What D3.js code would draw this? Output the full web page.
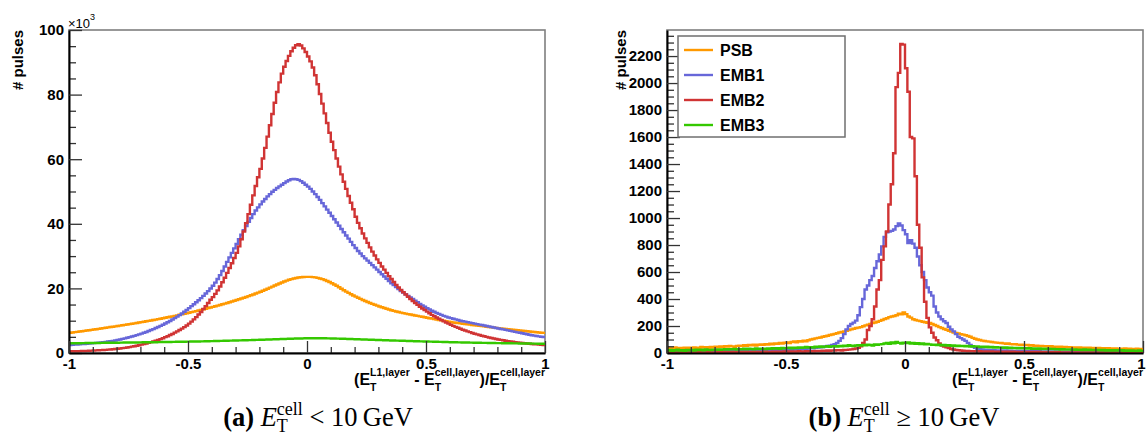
<!DOCTYPE html>
<html><head><meta charset="utf-8">
<script src="https://cdn.jsdelivr.net/npm/d3@7"></script>
<style>body{margin:0;background:#fff}svg{display:block}</style>
</head><body><svg id="c" width="1146" height="439"></svg>
<script>
// ---------------- data ----------------
const seriesNames = ["PSB", "EMB1", "EMB2", "EMB3"];
const seriesColors = ["#ff9900", "#6767d9", "#d03434", "#34c800"];
const xTickValues = [-1, -0.5, 0, 0.5, 1];
const xTickLabels = ["-1", "-0.5", "0", "0.5", "1"];
const yTicksLeft = [0, 20, 40, 60, 80, 100];           // in units of 10^3
const yTicksRight = [0, 200, 400, 600, 800, 1000, 1200, 1400, 1600, 1800, 2000, 2200];

// (a) E_T^cell < 10 GeV  — 200 bins on [-1,1], counts in 10^3
const leftPSB = [
6.25,6.35,6.45,6.55,6.65,6.75,6.85,6.95,7.05,7.15,
7.26,7.37,7.48,7.59,7.7,7.81,7.92,8.03,8.14,8.25,
8.36,8.47,8.58,8.7,8.82,8.94,9.06,9.18,9.3,9.42,
9.55,9.68,9.81,9.94,10.07,10.2,10.34,10.48,10.62,10.76,
10.9,11.05,11.2,11.35,11.5,11.66,11.82,11.98,12.14,12.3,
12.47,12.64,12.81,12.98,13.16,13.34,13.52,13.7,13.89,14.08,
14.27,14.47,14.67,14.87,15.08,15.29,15.5,15.72,15.94,16.16,
16.39,16.62,16.86,17.1,17.35,17.6,17.86,18.13,18.4,18.68,
18.97,19.27,19.58,19.9,20.23,20.56,20.89,21.22,21.54,21.85,
22.14,22.41,22.66,22.88,23.07,23.23,23.36,23.46,23.53,23.57,
23.58,23.56,23.5,23.4,23.26,23.08,22.86,22.6,22.3,21.97,
21.6,21.2,20.8,20.35,19.9,19.45,19.0,18.6,18.2,17.8,
17.45,17.1,16.75,16.42,16.1,15.8,15.5,15.21,14.93,14.66,
14.4,14.15,13.91,13.68,13.46,13.25,13.05,12.86,12.68,12.51,
12.35,12.2,12.05,11.9,11.76,11.62,11.48,11.34,11.2,11.06,
10.92,10.78,10.64,10.5,10.36,10.23,10.1,9.97,9.84,9.72,
9.6,9.49,9.38,9.27,9.17,9.07,8.97,8.87,8.78,8.69,
8.6,8.51,8.42,8.33,8.24,8.15,8.06,7.97,7.88,7.79,
7.7,7.62,7.54,7.46,7.38,7.3,7.22,7.14,7.06,6.98,
6.9,6.82,6.74,6.66,6.58,6.5,6.43,6.36,6.29,6.22];
const leftEMB1 = [
2.5,2.55,2.6,2.65,2.7,2.75,2.8,2.86,2.92,2.98,
3.05,3.12,3.2,3.28,3.36,3.45,3.55,3.65,3.76,3.88,
4.05,4.2,4.36,4.53,4.71,4.9,5.1,5.31,5.53,5.76,
6.0,6.25,6.52,6.8,7.1,7.4,7.72,8.05,8.4,8.76,
9.13,9.52,9.93,10.35,10.8,11.26,11.74,12.24,12.76,13.3,
13.9,14.5,15.1,15.7,16.35,17.0,17.7,18.4,19.15,19.95,
20.8,21.8,22.9,24.1,25.4,26.8,28.2,29.6,31.0,32.4,
33.8,35.2,36.6,38.0,39.3,40.6,41.8,43.0,44.1,45.1,
46.0,46.9,47.7,48.5,49.2,49.9,50.5,51.1,51.6,52.1,
52.6,53.1,53.5,53.8,53.9,53.8,53.6,53.2,52.7,52.1,
51.5,50.8,50.0,49.2,48.3,47.4,46.4,45.4,44.4,43.4,
42.4,41.4,40.4,39.4,38.4,37.4,36.4,35.4,34.4,33.4,
32.5,31.6,30.8,30.0,29.3,28.6,27.9,27.2,26.5,25.8,
25.1,24.4,23.7,23.0,22.3,21.6,21.0,20.4,19.8,19.2,
18.7,18.2,17.7,17.2,16.7,16.2,15.7,15.2,14.75,14.3,
13.9,13.5,13.1,12.75,12.4,12.1,11.8,11.5,11.25,11.0,
10.8,10.6,10.4,10.2,10.0,9.85,9.7,9.55,9.4,9.25,
9.1,8.95,8.8,8.65,8.5,8.35,8.2,8.05,7.9,7.75,
7.6,7.45,7.3,7.15,7.0,6.85,6.7,6.55,6.4,6.25,
6.1,5.95,5.8,5.65,5.5,5.38,5.26,5.14,5.02,4.9];
const leftEMB2 = [
0.50,0.52,0.54,0.56,0.58,0.60,0.63,0.66,0.69,0.72,
0.76,0.80,0.84,0.88,0.93,0.98,1.04,1.10,1.17,1.24,
1.32,1.41,1.50,1.60,1.71,1.83,1.96,2.10,2.25,2.41,
2.58,2.76,2.95,3.15,3.36,3.58,3.81,4.05,4.30,4.56,
4.9,5.2,5.55,5.9,6.3,6.7,7.1,7.55,8.0,8.5,
9.1,9.7,10.4,11.1,11.9,12.7,13.6,14.5,15.5,16.5,
17.3,18.3,19.4,20.6,21.9,23.3,24.8,26.3,27.8,29.4,
31.0,33.0,35.2,37.6,40.2,43.0,45.9,48.8,51.7,54.4,
57.0,60.2,63.5,67.0,70.5,74.0,77.5,80.8,83.8,86.5,
88.6,90.4,92.0,93.4,94.5,95.3,95.6,95.2,94.3,93.2,
91.8,90.3,88.4,86.0,83.2,80.2,77.2,74.2,71.2,68.2,
65.4,62.8,60.2,57.7,55.3,53.0,50.8,48.6,46.5,44.5,
42.2,40.3,38.6,37.0,35.5,34.1,32.7,31.4,30.2,29.0,
27.9,26.8,25.8,24.8,23.8,22.9,22.0,21.1,20.3,19.5,
18.8,18.1,17.4,16.7,16.1,15.5,14.9,14.3,13.8,13.3,
12.8,12.3,11.8,11.4,11.0,10.6,10.2,9.8,9.45,9.1,
8.75,8.4,8.1,7.8,7.5,7.2,6.95,6.7,6.45,6.2,
5.98,5.76,5.56,5.36,5.17,4.99,4.82,4.65,4.49,4.34,
4.2,4.06,3.93,3.81,3.69,3.58,3.47,3.37,3.28,3.19,
3.1,3.02,2.94,2.87,2.8,2.73,2.67,2.61,2.55,2.5];
const leftEMB3 = [
3.00,3.02,3.01,3.04,3.03,3.06,3.05,3.08,3.07,3.10,
3.09,3.12,3.11,3.14,3.13,3.16,3.15,3.18,3.17,3.20,
3.19,3.22,3.21,3.24,3.23,3.26,3.25,3.28,3.27,3.30,
3.29,3.32,3.31,3.34,3.33,3.36,3.35,3.38,3.37,3.40,
3.40,3.42,3.41,3.44,3.44,3.47,3.46,3.49,3.49,3.52,
3.52,3.55,3.55,3.58,3.58,3.61,3.61,3.64,3.65,3.67,
3.68,3.71,3.71,3.74,3.75,3.78,3.79,3.82,3.83,3.86,
3.87,3.90,3.91,3.94,3.96,3.98,4.00,4.03,4.05,4.07,
4.09,4.12,4.14,4.17,4.19,4.22,4.24,4.27,4.29,4.32,
4.34,4.37,4.39,4.42,4.44,4.47,4.49,4.51,4.53,4.55,
4.56,4.57,4.57,4.58,4.57,4.57,4.56,4.55,4.53,4.52,
4.50,4.48,4.46,4.44,4.42,4.40,4.37,4.35,4.32,4.30,
4.27,4.25,4.22,4.20,4.17,4.14,4.12,4.09,4.07,4.04,
4.02,3.99,3.97,3.94,3.92,3.89,3.87,3.84,3.82,3.80,
3.77,3.75,3.73,3.70,3.68,3.66,3.63,3.61,3.59,3.57,
3.55,3.53,3.51,3.49,3.47,3.45,3.43,3.41,3.39,3.37,
3.35,3.34,3.32,3.30,3.29,3.27,3.25,3.24,3.22,3.21,
3.19,3.18,3.16,3.15,3.14,3.12,3.11,3.10,3.08,3.07,
3.06,3.05,3.03,3.02,3.01,3.00,2.99,2.98,2.97,2.96,
2.95,2.94,2.93,2.92,2.91,2.90,2.89,2.88,2.87,2.86];

// (b) E_T^cell >= 10 GeV — 200 bins on [-1,1], counts
const rightPSB = [
38,33,36,41,35,37,34,39,36,40,
37,42,39,36,44,40,43,38,45,41,
46,43,48,44,50,47,52,49,46,53,
55,51,58,54,60,57,62,56,61,64,
60,66,63,69,65,71,68,74,70,76,
79,74,82,85,80,88,84,91,87,95,
100,104,108,112,115,120,124,128,133,137,
142,146,152,156,160,164,170,175,180,185,
188,192,198,205,210,216,222,226,232,238,
244,252,258,266,270,274,280,292,286,300,
288,270,262,250,244,240,236,232,228,224,
222,215,208,200,192,185,178,172,165,158,
152,148,144,140,136,132,126,120,112,106,
100,96,92,89,86,84,81,79,77,75,
74,71,69,70,66,64,65,62,60,61,
58,59,55,57,53,54,51,52,49,50,
48,50,46,47,44,46,43,45,42,43,
41,42,39,41,38,40,37,39,36,38,
36,37,34,36,33,35,32,34,33,31,
32,30,33,29,31,30,28,31,29,30];
const rightEMB1 = [
8,10,7,9,11,8,10,9,12,10,
11,9,12,10,13,11,12,14,11,13,
12,14,13,15,12,14,16,13,15,14,
16,14,17,15,18,16,17,19,16,18,
18,20,17,21,19,22,20,23,21,24,
22,25,24,27,26,29,28,31,30,33,
35,34,38,40,42,45,48,52,55,60,
65,75,90,110,140,175,200,215,225,240,
280,340,400,470,500,540,570,630,680,730,
790,860,895,900,905,915,940,960,945,910,
880,815,835,810,780,715,650,600,540,485,
450,425,345,300,270,250,235,222,195,175,
160,140,120,110,100,90,75,60,48,38,
32,28,26,24,23,22,21,20,19,19,
18,17,18,16,17,15,16,15,14,15,
14,13,14,12,13,12,13,11,12,11,
12,10,11,10,11,9,10,10,9,10,
9,10,8,9,9,8,9,8,9,8,
8,9,7,8,8,7,8,7,8,7,
7,8,6,7,7,6,7,6,7,6];
const rightEMB2 = [
4,3,5,2,4,3,5,4,3,4,
5,3,4,6,4,5,3,6,5,4,
5,6,4,7,5,6,5,7,6,5,
6,7,5,8,6,7,8,6,7,8,
7,9,8,7,10,8,9,10,8,11,
9,11,10,12,11,13,12,11,14,13,
14,13,15,16,14,17,16,18,17,19,
18,20,21,19,22,23,25,27,30,33,
38,50,75,100,170,200,250,345,470,540,
690,790,900,1100,1250,1480,1970,2075,2290,2285,
2110,1935,1600,1590,1310,950,780,560,380,260,
190,150,115,95,70,55,47,42,36,30,
26,22,20,18,17,16,15,14,14,13,
12,13,11,12,11,10,11,10,9,10,
9,10,8,9,8,9,7,8,8,7,
7,8,6,7,7,6,7,6,5,6,
6,5,6,5,6,4,5,5,4,5,
5,4,5,4,4,5,3,4,4,3,
4,3,4,3,4,3,3,4,3,3,
3,4,2,3,3,2,3,3,2,3];
const rightEMB3 = [
18,22,16,20,24,19,21,17,23,20,
22,19,25,21,24,20,26,23,22,25,
24,27,23,26,29,25,28,27,30,26,
29,27,31,28,32,30,27,33,29,31,
32,30,34,31,36,33,35,32,37,34,
36,39,35,40,37,42,38,41,44,40,
43,41,46,44,48,45,47,50,46,49,
51,48,53,50,55,52,57,54,51,56,
58,55,60,57,62,59,56,63,60,64,
66,70,74,68,78,72,82,75,70,76,
73,78,70,74,68,72,66,70,64,67,
64,60,62,58,61,57,59,55,58,54,
56,52,55,51,53,49,52,48,50,47,
49,45,47,44,46,42,45,41,43,40,
42,39,41,37,40,36,38,35,37,34,
36,33,35,32,34,31,33,30,32,29,
31,29,30,27,29,26,28,25,27,26,
24,27,23,25,22,26,21,24,22,23,
21,23,20,22,19,21,18,20,19,21,
18,20,17,19,16,18,17,15,18,16];

// ---------------- drawing ----------------
const svg = d3.select("#c");
const SANS = "'Liberation Sans', Arial, Helvetica, sans-serif";
const SERIF = "'Liberation Serif', 'Times New Roman', serif";

function rich(parent, x, y, anchor, cols, base) {
  const g = parent.append("g");
  let cx = 0;
  cols.forEach(col => {
    let w = 0;
    col.forEach(p => {
      const o = Object.assign({}, base, p);
      const t = g.append("text")
        .attr("x", cx).attr("y", o.dy || 0)
        .attr("font-family", o.ff).attr("font-size", o.fs)
        .attr("font-weight", o.fw || "normal").attr("font-style", o.st || "normal")
        .attr("fill", "#000").style("white-space", "pre")
        .text(o.t);
      w = Math.max(w, t.node().getComputedTextLength());
    });
    cx += w;
  });
  const off = anchor === "end" ? -cx : anchor === "middle" ? -cx / 2 : 0;
  g.attr("transform", `translate(${x + off},${y})`);
}

function panel(o) {
  const x = d3.scaleLinear().domain([-1, 1]).range([o.x0, o.x1]);
  const y = d3.scaleLinear().domain([0, o.yMax]).range([o.yBot, o.yTop]);
  const g = svg.append("g");

  const clipId = "clip" + o.id;
  svg.append("clipPath").attr("id", clipId).append("rect")
    .attr("x", o.x0).attr("y", o.yTop).attr("width", o.x1 - o.x0).attr("height", o.yBot - o.yTop);

  // frame
  g.append("rect").attr("x", o.x0).attr("y", o.yTop)
    .attr("width", o.x1 - o.x0).attr("height", o.yBot - o.yTop)
    .attr("fill", "none").attr("stroke", "#7f7f7f").attr("stroke-width", 1.6);

  // histograms
  const line = d3.line().x(d => x(d[0])).y(d => y(d[1])).curve(d3.curveStepAfter);
  const hg = g.append("g").attr("clip-path", `url(#${clipId})`);
  o.series.forEach((vals, k) => {
    const n = vals.length;
    const pts = vals.map((v, i) => [-1 + 2 * i / n, v]);
    pts.push([1, vals[n - 1]]);
    hg.append("path").attr("d", line(pts))
      .attr("fill", "none").attr("stroke", seriesColors[k])
      .attr("stroke-width", 2.4).attr("stroke-linejoin", "miter");
  });

  // y axis
  const yMinor = d3.range(0, o.yMax, o.yMinorStep).filter(v => o.yTicks.indexOf(v) < 0);
  const ym = g.append("g").attr("transform", `translate(${o.x0},0)`)
    .call(d3.axisLeft(y).tickValues(yMinor).tickSizeInner(-7).tickSizeOuter(0).tickFormat(""));
  ym.select(".domain").remove();
  ym.selectAll("line").attr("stroke", "#333").attr("stroke-width", 1.3);
  const ya = g.append("g").attr("transform", `translate(${o.x0},0)`)
    .call(d3.axisLeft(y).tickValues(o.yTicks).tickSizeInner(-13).tickSizeOuter(0).tickPadding(5).tickFormat(d => String(d)));
  ya.attr("font-family", SANS).attr("font-size", 15).attr("font-weight", "bold");
  ya.select(".domain").attr("stroke", "#000").attr("stroke-width", 2);
  ya.selectAll(".tick line").attr("stroke", "#333").attr("stroke-width", 1.3);
  ya.selectAll("text").attr("fill", "#000");

  // x axis
  const xMinor = d3.range(-10, 11).map(i => i / 10).filter(v => Math.abs(v * 2 - Math.round(v * 2)) > 1e-9);
  const xm = g.append("g").attr("transform", `translate(0,${o.yBot})`)
    .call(d3.axisBottom(x).tickValues(xMinor).tickSizeInner(-6).tickSizeOuter(0).tickFormat(""));
  xm.select(".domain").remove();
  xm.selectAll("line").attr("stroke", "#333").attr("stroke-width", 1.3);
  const xa = g.append("g").attr("transform", `translate(0,${o.yBot})`)
    .call(d3.axisBottom(x).tickValues(xTickValues).tickSizeInner(-12).tickSizeOuter(0).tickPadding(5)
      .tickFormat((d, i) => xTickLabels[i]));
  xa.attr("font-family", SANS).attr("font-size", 15).attr("font-weight", "bold");
  xa.select(".domain").attr("stroke", "#000").attr("stroke-width", 2);
  xa.selectAll(".tick line").attr("stroke", "#333").attr("stroke-width", 1.3);
  xa.selectAll("text").attr("fill", "#000");
  // keep the last label inside the page, as in the reference
  if (o.lastDx) xa.selectAll(".tick text").filter(d => d === 1).attr("dx", o.lastDx);

  // y title
  g.append("text").attr("transform", `translate(${o.yTitleX},${o.yTop}) rotate(-90)`)
    .attr("text-anchor", "end").attr("font-family", SANS).attr("font-size", 15)
    .attr("font-weight", "bold").attr("fill", "#000").text("# pulses");

  // x title
  const sup = { fs: 10.5, dy: -9 }, sub = { fs: 10.5, dy: 6 };
  rich(g, o.x1, 385, "end", [
    [{ t: "(E" }],
    [Object.assign({ t: "L1,layer" }, sup), Object.assign({ t: "T" }, sub)],
    [{ t: " - E" }],
    [Object.assign({ t: "cell,layer" }, sup), Object.assign({ t: "T" }, sub)],
    [{ t: ")/E" }],
    [Object.assign({ t: "cell,layer" }, sup), Object.assign({ t: "T" }, sub)]
  ], { ff: SANS, fs: 16, fw: "bold" });

  // caption
  rich(svg, o.capX, 426, "middle", [
    [{ t: o.capTag, fw: "bold" }],
    [{ t: " E", st: "italic" }],
    [{ t: "cell", fs: 18, dy: -11 }, { t: "T", fs: 18, dy: 6 }],
    [{ t: o.capRel + "10\u2009GeV" }]
  ], { ff: SERIF, fs: 26.5 });

  return { x, y, g };
}

// left panel
const L = panel({
  id: "a", x0: 69, x1: 545, yTop: 30, yBot: 353, yMax: 100,
  yTicks: yTicksLeft, yMinorStep: 5, yTitleX: 23,
  series: [leftPSB, leftEMB1, leftEMB2, leftEMB3],
  capX: 318, capTag: "(a)", capRel: " < "
});
// x10^3 multiplier
svg.append("text").attr("x", 68).attr("y", 28).attr("font-family", SANS)
  .attr("font-size", 13).attr("fill", "#000")
  .text("\u00d710")
  .append("tspan").attr("font-size", 9).attr("dy", -8).text("3");

// right panel
const R = panel({
  id: "b", x0: 667, x1: 1143, yTop: 30, yBot: 353, yMax: 2393,
  yTicks: yTicksRight, yMinorStep: 50, yTitleX: 626,
  series: [rightPSB, rightEMB1, rightEMB2, rightEMB3],
  capX: 904, capTag: "(b)", capRel: " \u2265 ", lastDx: -2
});

// legend
const lg = svg.append("g");
lg.append("rect").attr("x", 678).attr("y", 36).attr("width", 167).attr("height", 101)
  .attr("fill", "#fff").attr("stroke", "#6f6f6f").attr("stroke-width", 1.5);
const legendRows = d3.scalePoint().domain(seriesNames).range([50, 125]);
seriesNames.forEach((nm, k) => {
  const cy = legendRows(nm);
  lg.append("line").attr("x1", 684).attr("x2", 713).attr("y1", cy).attr("y2", cy)
    .attr("stroke", seriesColors[k]).attr("stroke-width", 2.4);
  lg.append("text").attr("x", 720).attr("y", cy).attr("dy", "0.36em")
    .attr("font-family", SANS).attr("font-size", 16).attr("font-weight", "bold")
    .attr("fill", "#000").text(nm);
});
</script></body></html>
